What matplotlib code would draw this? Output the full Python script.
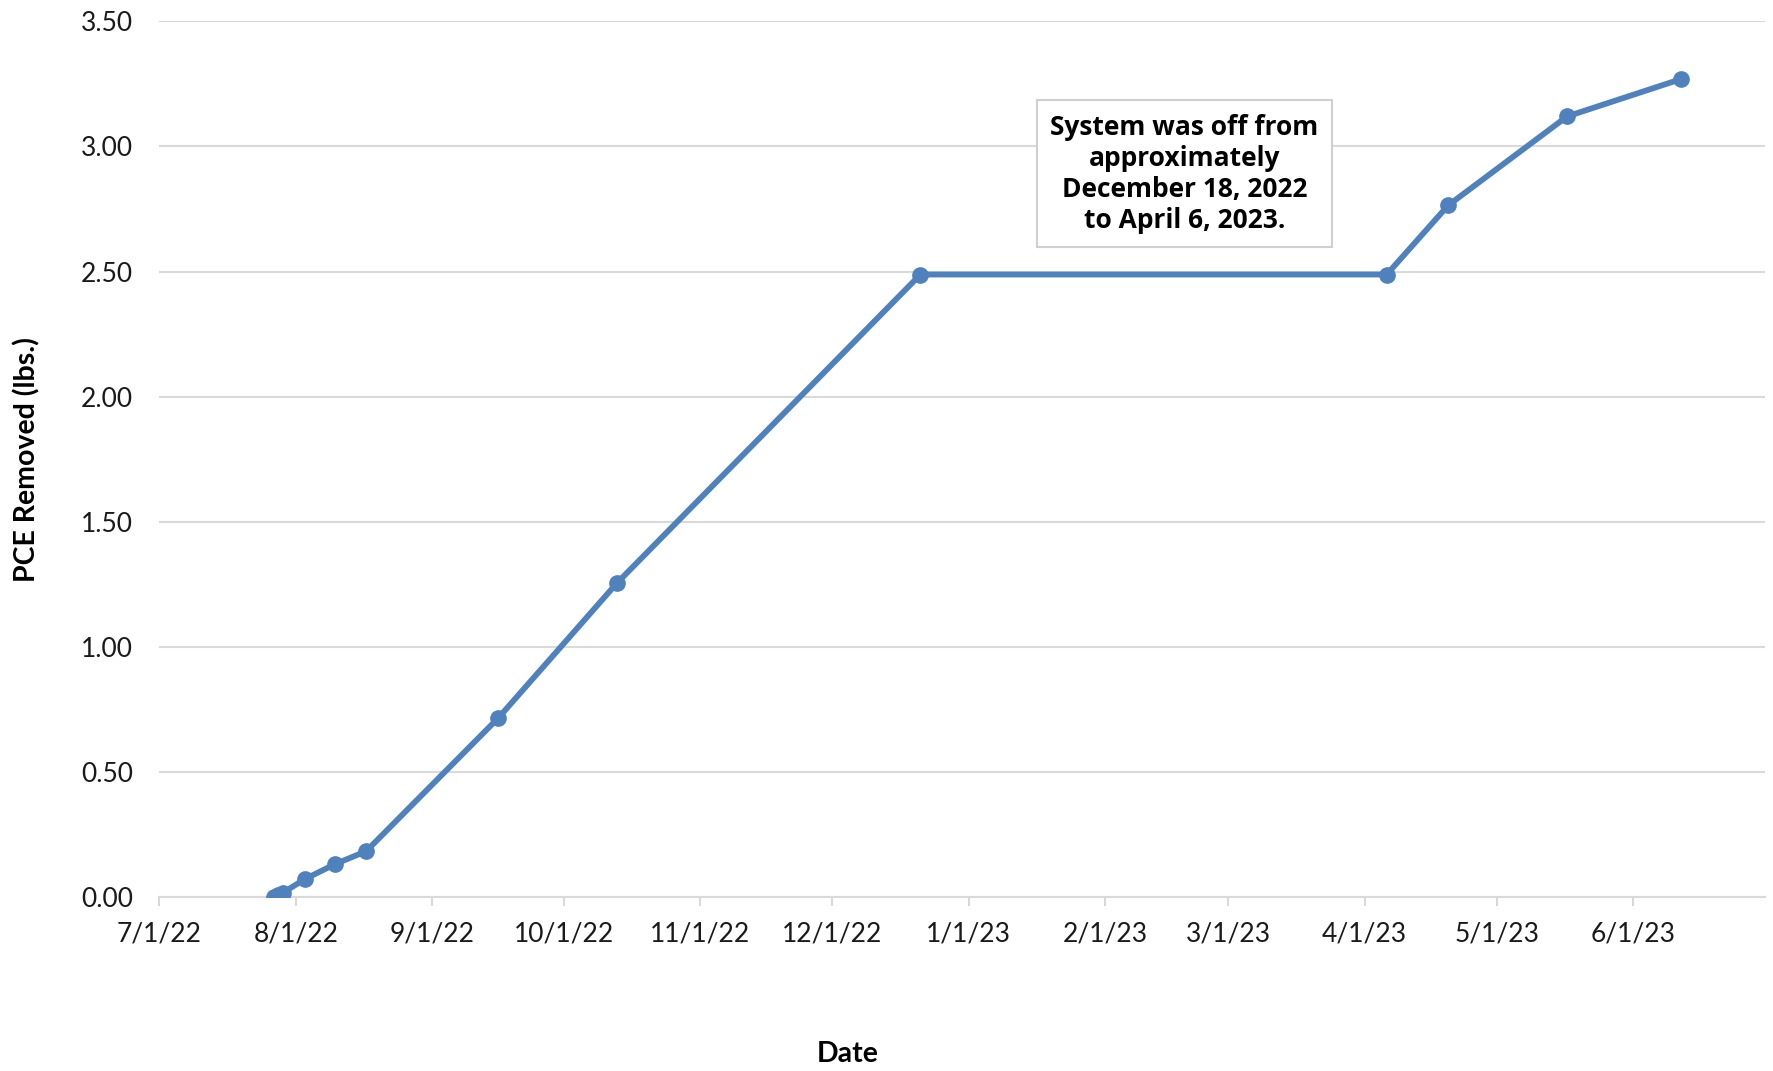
import numpy as np
import pandas as pd
import matplotlib
matplotlib.use("Agg")
import matplotlib.pyplot as plt

# cumulative PCE mass removed by the treatment system
dates = pd.to_datetime([
    "2022-07-27", "2022-07-28", "2022-07-29", "2022-08-03", "2022-08-10",
    "2022-08-17", "2022-09-16", "2022-10-13", "2022-12-21", "2023-04-06",
    "2023-04-20", "2023-05-17", "2023-06-12",
])
pce_lbs = [0.00, 0.005, 0.015, 0.070, 0.131, 0.182, 0.714, 1.254, 2.488,
           2.488, 2.765, 3.120, 3.270]

note = "System was off from\napproximately\nDecember 18, 2022\nto April 6, 2023."
note_date = pd.Timestamp("2023-02-19")
note_y = 2.89

tick_font = "Lato"
bold_font = "Open Sans"
blue = "#4F81BD"
grid = "#D9D9D9"

fig = plt.figure(figsize=(17.73, 10.71), dpi=100)
ax = fig.add_axes([0.0899, 0.1627, 0.9056, 0.8173])

ax.plot(dates, pce_lbs, color=blue, lw=4.2, marker="o", ms=11,
        solid_capstyle="round", zorder=3)

ax.set_xlim(pd.Timestamp("2022-07-01"), pd.Timestamp("2023-07-01"))
ax.set_ylim(0, 3.5)
ax.set_yticks(np.arange(0, 3.51, 0.5))
ax.yaxis.set_major_formatter(plt.FuncFormatter(lambda v, p: f"{v:.2f}"))

months = pd.date_range("2022-07-01", "2023-06-01", freq="MS")
ax.set_xticks(months)
ax.set_xticklabels([f"{d.month}/{d.day}/{d.year % 100}" for d in months])

ax.grid(axis="y", color=grid, lw=1.5)
ax.set_axisbelow(True)
for s in ["top", "right", "left"]:
    ax.spines[s].set_visible(False)
ax.spines["bottom"].set_color(grid)
ax.spines["bottom"].set_linewidth(1.5)
ax.tick_params(axis="y", length=0, pad=19, labelsize=19, labelcolor="#1a1a1a")
ax.tick_params(axis="x", length=6.5, width=1.5, color=grid, pad=11,
               labelsize=19, labelcolor="#1a1a1a")
for lab in ax.get_xticklabels() + ax.get_yticklabels():
    lab.set_fontfamily(tick_font)

ax.text(note_date, note_y, note, ha="center", va="center", fontsize=19,
        fontweight="bold", family=bold_font, linespacing=1.2,
        bbox=dict(boxstyle="square,pad=0.5", fc="white", ec="#D0D0D0", lw=1.5),
        zorder=4)

fig.text(0.478, 0.016, "Date", ha="center", va="center", fontsize=20.5,
         fontweight="bold", family=tick_font)
fig.text(0.0152, 0.5705, "PCE Removed (lbs.)", ha="center", va="center",
         rotation=90, fontsize=20.5, fontweight="bold", family=tick_font)

fig.savefig("out.png", dpi=100)
